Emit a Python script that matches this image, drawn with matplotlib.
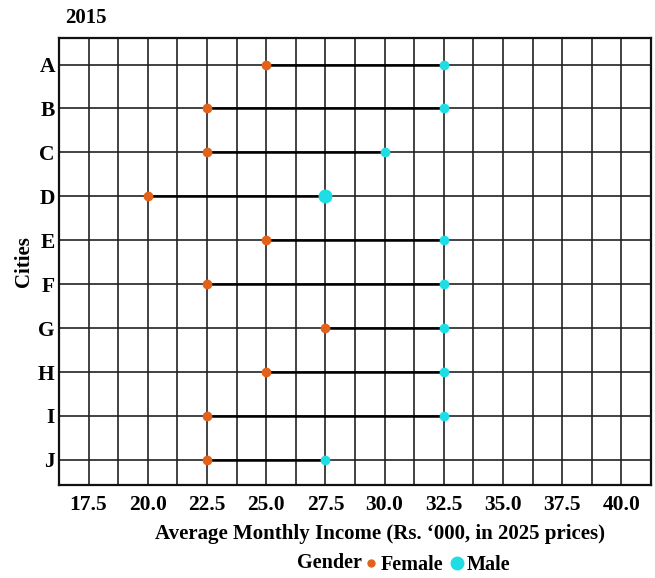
import numpy as np
import matplotlib.pyplot as plt
from matplotlib.lines import Line2D

plt.rcParams['font.family'] = ['Liberation Serif', 'DejaVu Serif']
plt.rcParams['font.weight'] = 'bold'

cities = ['A', 'B', 'C', 'D', 'E', 'F', 'G', 'H', 'I', 'J']
female = [25.0, 22.5, 22.5, 20.0, 25.0, 22.5, 27.5, 25.0, 22.5, 22.5]
male = [32.5, 32.5, 30.0, 27.5, 32.5, 32.5, 32.5, 32.5, 32.5, 27.5]
male_size = [6, 6, 6, 9, 6, 6, 6, 6, 6, 6]
xticks = [17.5, 20.0, 22.5, 25.0, 27.5, 30.0, 32.5, 35.0, 37.5, 40.0]

col_f = '#E2621B'
col_m = '#1FDDE4'

fig = plt.figure(figsize=(6.55, 5.78), dpi=100)
ax = fig.add_axes([0.090, 0.161, 0.904, 0.773])

y = np.arange(len(cities))

# grid
for gx in np.arange(16.25, 41.3, 1.25):
    ax.axvline(gx, color='#222222', lw=1.2, zorder=0)
for gy in y:
    ax.axhline(gy, color='#222222', lw=1.2, zorder=0)

for i in range(len(cities)):
    ax.plot([female[i], male[i]], [y[i], y[i]], color='black', lw=1.8, zorder=2)
    ax.plot(female[i], y[i], 'o', color=col_f, ms=6, zorder=3)
    ax.plot(male[i], y[i], 'o', color=col_m, ms=male_size[i], zorder=3)

ax.set_xlim(16.25, 41.25)
ax.set_ylim(len(cities) - 0.43, -0.6)
ax.set_xticks(xticks)
ax.set_xticklabels(['%.1f' % v for v in xticks], fontsize=15.5, fontweight='bold')
ax.set_yticks(y)
ax.set_yticklabels(cities, fontsize=15.5, fontweight='bold')
ax.tick_params(axis='x', length=0, pad=7)
ax.tick_params(axis='y', length=0, pad=3)
for s in ax.spines.values():
    s.set_linewidth(1.6)
    s.set_color('#111111')

ax.set_xlabel("Average Monthly Income (Rs. \u2018000, in 2025 prices)", fontsize=15,
              fontweight='bold')
ax.xaxis.set_label_coords(0.542, -0.088)
ax.set_ylabel('Cities', fontsize=15, fontweight='bold', labelpad=3)
fig.text(0.099, 0.968, '2015', fontsize=15, fontweight='bold', va='center')

# legend
fig.text(0.453, 0.026, 'Gender', fontsize=14.5, fontweight='bold', va='center')
handles = [Line2D([], [], marker='o', ls='', color=col_f, ms=5, label='Female'),
           Line2D([], [], marker='o', ls='', color=col_m, ms=9, label='Male')]
fig.legend(handles=handles, loc='center left', bbox_to_anchor=(0.527, 0.022), ncol=2,
           frameon=False, handletextpad=0.05, columnspacing=0.3,
           prop={'size': 14.5, 'weight': 'bold'}, handlelength=0.8)

fig.savefig('out.png', dpi=100)
